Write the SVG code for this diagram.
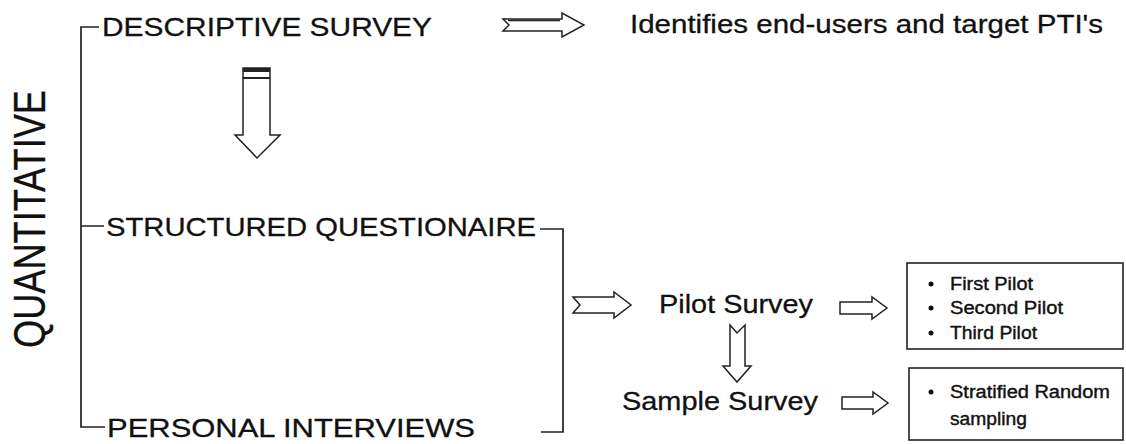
<svg xmlns="http://www.w3.org/2000/svg" width="1126" height="444" viewBox="0 0 1126 444">
<style>
.t{font-family:"Liberation Sans",Arial,sans-serif;fill:#111;stroke:#111;stroke-width:0.3}
.big{font-size:26.5px}
.sm{font-size:18px;stroke-width:0.4}
.ln{stroke:#222;stroke-width:1.7;fill:none}
.ar{fill:#fff;stroke:#222;stroke-width:1.5;stroke-linejoin:miter}
.box{fill:#fff;stroke:#222;stroke-width:1.6}
.dot{fill:#111}
</style>
<rect width="1126" height="444" fill="#fff"/>
<g id="connectors">
<path class="ln" d="M99,27 H81 V427 H105 M81,226 H104"/>
<path class="ln" d="M540,229 H563 V432 H541"/>
<polygon class="ar" points="503,19 562,19 562,13 584,25 562,37 562,31 503,31 509,25"/>
<line class="ln" x1="508" y1="20.5" x2="560" y2="20.5" stroke-width="1"/>
<polygon class="ar" points="243,68 270,68 270,135 280,135 257,158 235,135 243,135"/>
<rect x="243" y="68" width="27" height="4" fill="#222"/>
<line x1="243" y1="78" x2="270" y2="78" stroke="#222" stroke-width="2"/>
<polygon class="ar" points="573,297 614,297 614,292 631,305 614,318 614,313 573,313 580,305"/>
<polygon class="ar" points="730,325 737,333 745,325 745,366 751,366 737,382 723,366 730,366"/>
<polygon class="ar" points="840,302 872,302 872,297 887,308 872,319 872,314 840,314"/>
<polygon class="ar" points="842,397 873,397 873,392 888,403 873,414 873,409 842,409"/>
</g>
<g id="quantitative">
<text class="t" font-size="44" transform="translate(45,348) rotate(-90)" textLength="258" lengthAdjust="spacingAndGlyphs">QUANTITATIVE</text>
</g>
<g id="descriptive-survey">
<text class="t big" x="102" y="36" textLength="330" lengthAdjust="spacingAndGlyphs">DESCRIPTIVE SURVEY</text>
</g>
<g id="identifies">
<text class="t big" x="630" y="33" textLength="473" lengthAdjust="spacingAndGlyphs">Identifies end-users and target PTI's</text>
</g>
<g id="structured-questionaire">
<text class="t big" x="106" y="236" textLength="430" lengthAdjust="spacingAndGlyphs">STRUCTURED QUESTIONAIRE</text>
</g>
<g id="personal-interviews">
<text class="t big" x="107" y="437" textLength="368" lengthAdjust="spacingAndGlyphs">PERSONAL INTERVIEWS</text>
</g>
<g id="pilot-survey">
<text class="t big" x="659" y="313" textLength="154" lengthAdjust="spacingAndGlyphs">Pilot Survey</text>
</g>
<g id="sample-survey">
<text class="t big" x="622" y="410" textLength="196" lengthAdjust="spacingAndGlyphs">Sample Survey</text>
</g>
<g id="pilot-box">
<rect class="box" x="907" y="263" width="216" height="86"/>
<circle class="dot" cx="931" cy="284" r="2.5"/>
<circle class="dot" cx="931" cy="308" r="2.5"/>
<circle class="dot" cx="931" cy="333" r="2.5"/>
<text class="t sm" x="950" y="290" textLength="83" lengthAdjust="spacingAndGlyphs">First Pilot</text>
<text class="t sm" x="950" y="314" textLength="113" lengthAdjust="spacingAndGlyphs">Second Pilot</text>
<text class="t sm" x="950" y="339" textLength="87" lengthAdjust="spacingAndGlyphs">Third Pilot</text>
</g>
<g id="sampling-box">
<rect class="box" x="909" y="368" width="214" height="72"/>
<circle class="dot" cx="931" cy="392" r="2.5"/>
<text class="t sm" x="950" y="398" textLength="160" lengthAdjust="spacingAndGlyphs">Stratified Random</text>
<text class="t sm" x="950" y="425" textLength="77" lengthAdjust="spacingAndGlyphs">sampling</text>
</g>
</svg>
